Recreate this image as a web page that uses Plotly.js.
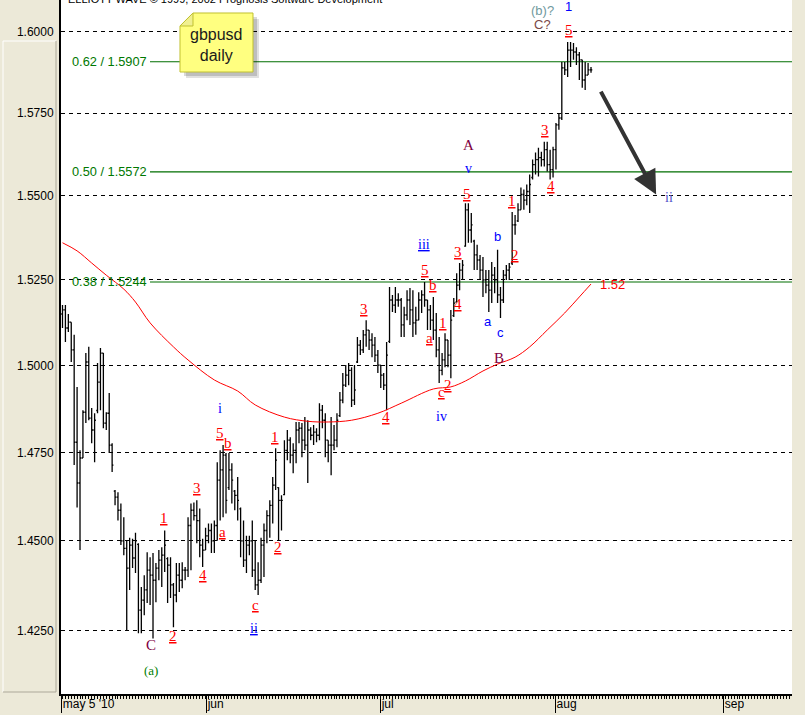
<!DOCTYPE html>
<html><head><meta charset="utf-8">
<script src="https://cdn.plot.ly/plotly-3.0.1.min.js"></script>
<style>html,body{margin:0;padding:0;background:#ECE9D8;}#chart{width:805px;height:715px;}</style>
</head><body><div id="chart"></div>
<script>
// ---- OHLC bars (gbpusd) ----
const openP = [1.5150,1.5162,1.5109,1.5126,1.5045,1.4779,1.4663,1.4734,1.4865,1.5010,
1.4848,1.4814,1.4870,1.4952,1.5036,1.4834,1.4862,1.4771,1.4640,1.4623,
1.4586,1.4500,1.4479,1.4424,1.4488,1.4452,1.4490,1.4307,1.4335,1.4363,
1.4418,1.4404,1.4390,1.4424,1.4446,1.4460,1.4450,1.4432,1.4377,1.4349,
1.4404,1.4390,1.4418,1.4418,1.4543,1.4586,1.4571,1.4557,1.4488,1.4474,
1.4514,1.4529,1.4500,1.4543,1.4671,1.4700,1.4742,1.4650,1.4700,1.4640,
1.4628,1.4590,1.4500,1.4446,1.4488,1.4500,1.4418,1.4377,1.4390,1.4488,
1.4529,1.4571,1.4600,1.4657,1.4650,1.4614,1.4630,1.4756,1.4785,1.4742,
1.4756,1.4814,1.4819,1.4785,1.4771,1.4814,1.4799,1.4808,1.4799,1.4871,
1.4842,1.4785,1.4771,1.4771,1.4785,1.4855,1.4900,1.4943,1.4972,1.4986,
1.4900,1.5010,1.5059,1.5045,1.5089,1.5103,1.5074,1.5059,1.5030,1.5001,
1.4972,1.4943,1.5070,1.5191,1.5176,1.5191,1.5191,1.5118,1.5147,1.5191,
1.5162,1.5124,1.5132,1.5191,1.5206,1.5191,1.5162,1.5132,1.5103,1.5045,
1.4986,1.5016,1.5074,1.5030,1.5145,1.5185,1.5235,1.5279,1.5350,1.5458,
1.5398,1.5365,1.5324,1.5309,1.5279,1.5250,1.5235,1.5220,1.5264,1.5250,
1.5206,1.5191,1.5264,1.5279,1.5300,1.5413,1.5425,1.5458,1.5504,1.5487,
1.5513,1.5555,1.5594,1.5609,1.5615,1.5609,1.5639,1.5594,1.5579,1.5639,
1.5714,1.5735,1.5888,1.5882,1.5943,1.5943,1.5937,1.5928,1.5913,1.5851,
1.5866,1.5882];
const highP = [1.5176,1.5176,1.5150,1.5126,1.5089,1.4938,1.4756,1.4871,1.5036,1.5054,
1.4877,1.4862,1.5007,1.5051,1.5036,1.4865,1.4920,1.4776,1.4643,1.4637,
1.4605,1.4566,1.4500,1.4509,1.4506,1.4523,1.4493,1.4371,1.4404,1.4468,
1.4454,1.4466,1.4438,1.4474,1.4482,1.4529,1.4454,1.4454,1.4382,1.4438,
1.4438,1.4440,1.4427,1.4566,1.4605,1.4608,1.4614,1.4591,1.4506,1.4537,
1.4549,1.4549,1.4557,1.4722,1.4756,1.4771,1.4748,1.4748,1.4719,1.4643,
1.4680,1.4594,1.4557,1.4514,1.4514,1.4557,1.4500,1.4440,1.4509,1.4549,
1.4586,1.4614,1.4680,1.4762,1.4651,1.4628,1.4785,1.4814,1.4793,1.4776,
1.4837,1.4837,1.4834,1.4851,1.4842,1.4822,1.4828,1.4819,1.4891,1.4886,
1.4862,1.4785,1.4851,1.4828,1.4862,1.4923,1.4978,1.5001,1.5007,1.4995,
1.5001,1.5083,1.5074,1.5103,1.5132,1.5103,1.5094,1.5083,1.5045,1.5001,
1.4978,1.5068,1.5229,1.5206,1.5229,1.5211,1.5197,1.5171,1.5220,1.5226,
1.5220,1.5171,1.5214,1.5220,1.5244,1.5191,1.5176,1.5200,1.5153,1.5083,
1.5036,1.5094,1.5074,1.5162,1.5197,1.5270,1.5300,1.5309,1.5478,1.5478,
1.5449,1.5369,1.5354,1.5324,1.5318,1.5279,1.5279,1.5303,1.5288,1.5339,
1.5229,1.5279,1.5294,1.5300,1.5452,1.5443,1.5478,1.5525,1.5519,1.5534,
1.5564,1.5609,1.5630,1.5645,1.5633,1.5663,1.5663,1.5639,1.5648,1.5720,
1.5750,1.5906,1.5906,1.5968,1.5968,1.5965,1.5952,1.5937,1.5913,1.5906,
1.5903,1.5891];
const lowP = [1.5109,1.5068,1.5097,1.5010,1.4714,1.4594,1.4474,1.4734,1.4834,1.4842,
1.4776,1.4722,1.4862,1.4871,1.4819,1.4814,1.4748,1.4694,1.4600,1.4557,
1.4488,1.4460,1.4251,1.4363,1.4424,1.4410,1.4243,1.4243,1.4293,1.4327,
1.4321,1.4229,1.4329,1.4390,1.4371,1.4413,1.4327,1.4341,1.4260,1.4329,
1.4357,1.4368,1.4390,1.4399,1.4418,1.4557,1.4493,1.4454,1.4427,1.4474,
1.4493,1.4466,1.4466,1.4500,1.4557,1.4566,1.4577,1.4643,1.4605,1.4586,
1.4557,1.4454,1.4427,1.4410,1.4460,1.4399,1.4363,1.4349,1.4382,1.4399,
1.4493,1.4509,1.4549,1.4643,1.4500,1.4529,1.4628,1.4728,1.4719,1.4691,
1.4719,1.4776,1.4736,1.4756,1.4663,1.4785,1.4771,1.4779,1.4785,1.4819,
1.4736,1.4722,1.4685,1.4756,1.4765,1.4851,1.4891,1.4938,1.4943,1.4880,
1.4886,1.5007,1.5030,1.5036,1.5054,1.5045,1.5024,1.5010,1.4978,1.4935,
1.4929,1.4871,1.5065,1.5156,1.5153,1.5171,1.5083,1.5083,1.5132,1.5118,
1.5083,1.5089,1.5132,1.5153,1.5171,1.5103,1.5103,1.5074,1.5024,1.4949,
1.4972,1.4995,1.4995,1.4963,1.5141,1.5185,1.5220,1.5250,1.5348,1.5360,
1.5360,1.5279,1.5279,1.5250,1.5200,1.5211,1.5156,1.5182,1.5211,1.5182,
1.5138,1.5182,1.5250,1.5250,1.5294,1.5384,1.5422,1.5458,1.5458,1.5472,
1.5449,1.5549,1.5564,1.5558,1.5588,1.5588,1.5573,1.5549,1.5555,1.5579,
1.5699,1.5729,1.5866,1.5860,1.5891,1.5913,1.5897,1.5851,1.5827,1.5820,
1.5866,1.5873];
const closeP = [1.5162,1.5109,1.5126,1.5045,1.4779,1.4663,1.4734,1.4865,1.5010,1.4848,
1.4814,1.4842,1.4952,1.5036,1.4834,1.4862,1.4771,1.4714,1.4623,1.4586,
1.4500,1.4479,1.4424,1.4488,1.4452,1.4500,1.4307,1.4335,1.4363,1.4418,
1.4404,1.4390,1.4424,1.4446,1.4460,1.4488,1.4432,1.4377,1.4349,1.4404,
1.4390,1.4418,1.4418,1.4543,1.4586,1.4571,1.4557,1.4488,1.4474,1.4514,
1.4529,1.4500,1.4543,1.4671,1.4700,1.4742,1.4614,1.4700,1.4671,1.4628,
1.4614,1.4500,1.4446,1.4488,1.4500,1.4418,1.4377,1.4390,1.4488,1.4529,
1.4571,1.4600,1.4657,1.4728,1.4614,1.4614,1.4756,1.4785,1.4742,1.4756,
1.4814,1.4819,1.4785,1.4771,1.4814,1.4799,1.4808,1.4799,1.4871,1.4842,
1.4785,1.4771,1.4771,1.4785,1.4842,1.4900,1.4943,1.4972,1.4986,1.4900,
1.4929,1.5059,1.5045,1.5089,1.5103,1.5074,1.5059,1.5030,1.5001,1.4972,
1.4943,1.5030,1.5191,1.5176,1.5191,1.5191,1.5118,1.5147,1.5191,1.5162,
1.5124,1.5132,1.5191,1.5206,1.5191,1.5162,1.5132,1.5103,1.5045,1.4986,
1.5016,1.5074,1.5030,1.5132,1.5182,1.5235,1.5279,1.5294,1.5458,1.5398,
1.5413,1.5324,1.5309,1.5279,1.5250,1.5235,1.5220,1.5264,1.5250,1.5206,
1.5191,1.5264,1.5279,1.5288,1.5413,1.5413,1.5458,1.5504,1.5487,1.5513,
1.5534,1.5594,1.5609,1.5615,1.5609,1.5639,1.5594,1.5579,1.5639,1.5714,
1.5735,1.5888,1.5882,1.5943,1.5943,1.5937,1.5928,1.5913,1.5851,1.5866,
1.5882,1.5882];

// ---- moving average (red), sampled at bar numbers ----
const maBar = [0,5,10,15,21,25,30,38,43,52,60,66,76,84,91,99,108,116,127,133,138,144,149,155,160,166,172,177,181];
const maVal = [1.5360,1.5336,1.5300,1.5264,1.5223,1.5185,1.5124,1.5054,1.5016,1.4958,1.4926,1.4886,1.4851,1.4839,1.4837,1.4842,1.4862,1.4891,1.4932,1.4938,1.4955,1.4984,1.5004,1.5024,1.5054,1.5103,1.5153,1.5200,1.5238];

// ---- fibonacci levels ----
const fibLevel = [1.5907, 1.5572, 1.5244];
const fibText = ['0.62 / 1.5907', '0.50 / 1.5572', '0.38 / 1.5244'];

// ---- axes ----
const yTickVal = [1.425, 1.45, 1.475, 1.5, 1.525, 1.55, 1.575, 1.6];
const yTickText = ['1.4250','1.4500','1.4750','1.5000','1.5250','1.5500','1.5750','1.6000'];
const xTickBar = [-0.4, 49.2, 108.8, 168.7, 226.3];
const xTickText = ["may 5 '10", 'jun', 'jul', 'aug', 'sep'];

// ---- wave labels ----
const redText = ['1','2','3','4','a','5','b','c','1','2','3','4','5','b','a','1','c','2','4','3','5','1','2','3','4','5'];
const redBar  = [34.8,37.9,46.1,48.2,54.7,54.0,56.7,66.0,72.8,73.9,103.3,110.9,124.2,126.9,125.6,130.4,129.7,132.1,135.5,135.5,138.6,154.0,155.0,165.3,167.4,173.5];
const redPrice= [1.4563,1.4236,1.4648,1.4404,1.4526,1.4805,1.4776,1.4321,1.4793,1.4482,1.5165,1.4851,1.5279,1.5235,1.5080,1.5124,1.4923,1.4943,1.5179,1.5333,1.5505,1.5484,1.5324,1.5699,1.5531,1.6005];
const blueText = ['i','<u>ii</u>','<u>iii</u>','iv','v'];
const blueBar  = [54.0,65.6,123.9,129.7,138.9];
const bluePrice= [1.4877,1.4256,1.5354,1.4854,1.5582];
const abcText = ['a','b','c','1'];
const abcBar  = [145.8,148.9,149.9,173.2];
const abcPrice= [1.5127,1.5378,1.5097,1.6079];
const bigText = ['C','A','B'];
const bigBar  = [30.4,138.9,149.6];
const bigPrice= [1.4210,1.5654,1.5021];

const W = 805, H = 715, ML = 61, MR = 13, MT = 0, MB = 21;
const PW = W - ML - MR, PH = H - MT - MB;
const px = v => (v - ML) / PW;         // page x -> paper
const py = v => (H - MB - v) / PH;     // page y -> paper
const lg = Math.log10;

const SANS = 'Liberation Sans, Arial, sans-serif';
const SERIF = 'Liberation Serif, Times New Roman, serif';

const barNo = closeP.map((_, i) => i);

const traces = [
  {type:'scatter', mode:'lines', x: maBar, y: maVal, line:{color:'#FF0000', width:1, shape:'spline'}, hoverinfo:'skip', showlegend:false},
  {type:'ohlc', x: barNo, open: openP, high: highP, low: lowP, close: closeP,
   increasing:{line:{color:'#000000', width:1.3}}, decreasing:{line:{color:'#000000', width:1.3}},
   tickwidth:0.45, hoverinfo:'skip', showlegend:false}
];

const shapes = [];
fibLevel.forEach(v => shapes.push({type:'line', xref:'paper', x0:px(150), x1:1, yref:'y', y0:v, y1:v, line:{color:'#006E00', width:1.2}, layer:'below'}));

// left label panel frame (decoration)
shapes.push({type:'line', xref:'paper', yref:'paper', x0:px(3), x1:px(3), y0:py(41), y1:py(692), line:{color:'#FFFFFF', width:1}});
shapes.push({type:'line', xref:'paper', yref:'paper', x0:px(3), x1:px(56), y0:py(41), y1:py(41), line:{color:'#FFFFFF', width:1}});
shapes.push({type:'line', xref:'paper', yref:'paper', x0:px(56), x1:px(56), y0:py(41), y1:py(692), line:{color:'#ACA899', width:1}});
shapes.push({type:'line', xref:'paper', yref:'paper', x0:px(3), x1:px(56), y0:py(692), y1:py(692), line:{color:'#ACA899', width:1}});

// sticky note (decoration)
function poly(pts){ return 'M ' + pts.map(p => px(p[0]).toFixed(5) + ',' + py(p[1]).toFixed(5)).join(' L ') + ' Z'; }
const note = [[193,13],[253,13],[253,72],[180,72],[180,26]];
shapes.push({type:'path', xref:'paper', yref:'paper', path: poly(note.map(p=>[p[0]+6,p[1]+6])), fillcolor:'rgba(0,0,0,0.12)', line:{width:0}});
shapes.push({type:'path', xref:'paper', yref:'paper', path: poly(note.map(p=>[p[0]+4,p[1]+4])), fillcolor:'rgba(0,0,0,0.15)', line:{width:0}});
shapes.push({type:'path', xref:'paper', yref:'paper', path: poly(note), fillcolor:'#FFFF80', line:{color:'#C0C030', width:1}});
shapes.push({type:'path', xref:'paper', yref:'paper', path: poly([[180,26],[193,26],[193,13]]), fillcolor:'#F0F090', line:{color:'#C0C030', width:1}});

const ann = [];
fibLevel.forEach((v, i) => ann.push({xref:'paper', x:px(70), xanchor:'left', yref:'y', y:lg(v), yanchor:'middle', text:fibText[i], showarrow:false, font:{family:SANS, size:12.8, color:'#007800'}}));
ann.push({xref:'paper', yref:'paper', x:px(216.5), xanchor:'center', y:py(45), yanchor:'middle', text:'gbpusd<br>daily', showarrow:false, font:{family:SANS, size:16, color:'#1a1a1a'}});
ann.push({xref:'paper', yref:'paper', x:px(66), xanchor:'left', y:1, yanchor:'middle', yshift:1, text:'ELLIOTT WAVE \u00a9 1999, 2002 Prognosis Software Development', showarrow:false, font:{family:SANS, size:11, color:'#000'}});
redText.forEach((t, i) => ann.push({x:redBar[i], y:lg(redPrice[i]), text:'<u>'+t+'</u>', showarrow:false, font:{family:SERIF, size:15, color:'#FF0000'}}));
blueText.forEach((t, i) => ann.push({x:blueBar[i], y:lg(bluePrice[i]), text:t, showarrow:false, font:{family:SERIF, size:14, color:'#0000FF'}}));
abcText.forEach((t, i) => ann.push({x:abcBar[i], y:lg(abcPrice[i]), text:t, showarrow:false, font:{family:SANS, size:13, color:'#0000FF'}}));
bigText.forEach((t, i) => ann.push({x:bigBar[i], y:lg(bigPrice[i]), text:t, showarrow:false, font:{family:SERIF, size:15, color:'#800040'}}));
ann.push({x:30.4, y:lg(1.4142), text:'(a)', showarrow:false, font:{family:SERIF, size:13, color:'#008000'}});
ann.push({x:164.3, y:lg(1.6064), text:'(b)?', showarrow:false, font:{family:SANS, size:13, color:'#6F9A9E'}});
ann.push({x:164.3, y:lg(1.6023), text:'C?', showarrow:false, font:{family:SANS, size:13, color:'#7A4848'}});
ann.push({x:207.8, y:lg(1.5496), text:'ii', showarrow:false, font:{family:SERIF, size:14, color:'#5050C8'}});
ann.push({x:188.3, y:lg(1.5238), text:'1.52', showarrow:false, font:{family:SANS, size:13, color:'#FF0000'}});
// projected move arrow
ann.push({x:203.3, y:lg(1.5504), ax:184.1, ay:lg(1.5820), axref:'x', ayref:'y', text:'', showarrow:true,
  arrowhead:2, arrowsize:1.2, arrowwidth:4, arrowcolor:'#333333', standoff:0, startstandoff:0});

const layout = {
  width: W, height: H,
  margin: {l: ML, r: MR, t: MT, b: MB, pad: 0},
  paper_bgcolor: '#ECE9D8', plot_bgcolor: '#FFFFFF',
  showlegend: false,
  xaxis: {
    range: [-0.51, -0.51 + PW / 2.92], fixedrange: true,
    rangeslider: {visible: false},
    showline: true, linecolor: '#000', linewidth: 2, zeroline: false, showgrid: false,
    tickmode: 'array', tickvals: xTickBar, ticktext: xTickText,
    ticks: 'outside', ticklen: 17, tickcolor: '#000', tickwidth: 1,
    ticklabelposition: 'outside right', ticklabelstandoff: -2,
    tickfont: {family: SANS, size: 12, color: '#000'},
    minor: {ticks: 'outside', ticklen: 3, tickmode: 'linear', tick0: 0, dtick: 1, tickcolor: '#000', tickwidth: 1, showgrid: false}
  },
  yaxis: {
    type: 'log', range: [lg(1.4077), lg(1.6098)], fixedrange: true,
    tickmode: 'array', tickvals: yTickVal, ticktext: yTickText,
    showgrid: true, gridcolor: '#000', gridwidth: 1, griddash: '4px,4px',
    showline: true, linecolor: '#000', linewidth: 2, zeroline: false,
    ticks: '', ticklabelstandoff: 3,
    tickfont: {family: SANS, size: 12, color: '#000'}
  },
  shapes: shapes,
  annotations: ann
};

Plotly.newPlot('chart', traces, layout, {staticPlot: true, displayModeBar: false});
</script></body></html>
